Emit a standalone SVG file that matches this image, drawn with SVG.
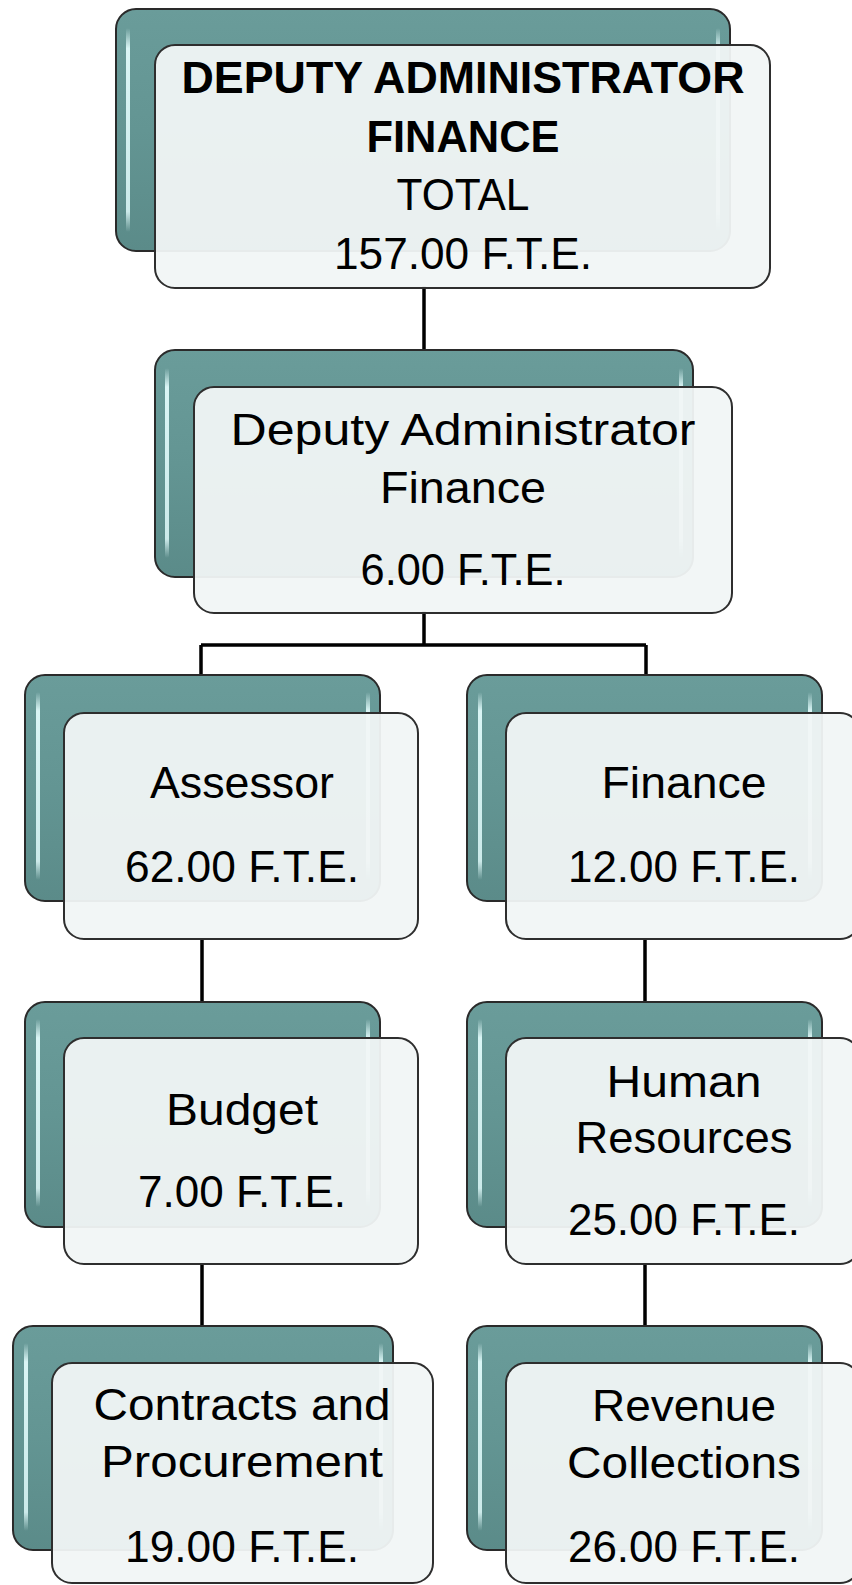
<svg xmlns="http://www.w3.org/2000/svg" width="852" height="1585" viewBox="0 0 852 1585">
<style>
.teal{fill:url(#tg);stroke:#2a2a2a;stroke-width:2}
.card{fill:#f1f5f5;fill-opacity:0.95;stroke:#2e2e2e;stroke-width:2}
.hl{fill:url(#hg)}
.conn{fill:none;stroke:#000;stroke-width:3.5}
text{font-family:"Liberation Sans",Arial,sans-serif;font-size:45px;fill:#000;text-anchor:middle}
.b{font-weight:bold;font-size:44px}
</style>
<defs>
<linearGradient id="tg" x1="0" y1="0" x2="0" y2="1">
<stop offset="0" stop-color="#6a9c9a"/>
<stop offset="0.5" stop-color="#639593"/>
<stop offset="1" stop-color="#5b8b89"/>
</linearGradient>
<linearGradient id="hg" x1="0" y1="0" x2="0" y2="1">
<stop offset="0" stop-color="#e6ffff" stop-opacity="0"/>
<stop offset="0.1" stop-color="#e0fafa" stop-opacity="0.95"/>
<stop offset="0.9" stop-color="#d8f4f4" stop-opacity="0.9"/>
<stop offset="1" stop-color="#d8f4f4" stop-opacity="0"/>
</linearGradient>
</defs>
<g id="connectors">
<path class="conn" d="M424 286V352"/>
<path class="conn" d="M424 611V645M201 645H646M201 645V677M646 645V677"/>
<path class="conn" d="M202 938V1003M645 938V1003"/>
<path class="conn" d="M202 1263V1327M645 1263V1327"/>
</g>
<g id="n-total">
<rect class="teal" x="116" y="9" width="614" height="242" rx="20"/>
<rect class="hl" x="126" y="28" width="4" height="204" rx="2"/>
<rect class="hl" x="716" y="28" width="4" height="204" rx="2"/>
<rect class="card" x="155" y="45" width="615" height="243" rx="20"/>
<text class="b" x="463" y="93" textLength="563" lengthAdjust="spacingAndGlyphs">DEPUTY ADMINISTRATOR</text>
<text class="b" x="463" y="152" textLength="193" lengthAdjust="spacingAndGlyphs">FINANCE</text>
<text x="463" y="210" textLength="133" lengthAdjust="spacingAndGlyphs">TOTAL</text>
<text x="463" y="269" textLength="258" lengthAdjust="spacingAndGlyphs">157.00 F.T.E.</text>
</g>
<g id="n-deputy">
<rect class="teal" x="155" y="350" width="538" height="227" rx="20"/>
<rect class="hl" x="165" y="368" width="4" height="190" rx="2"/>
<rect class="hl" x="679" y="368" width="4" height="190" rx="2"/>
<rect class="card" x="194" y="387" width="538" height="226" rx="20"/>
<text x="463" y="445" textLength="465" lengthAdjust="spacingAndGlyphs">Deputy Administrator</text>
<text x="463" y="503" textLength="166" lengthAdjust="spacingAndGlyphs">Finance</text>
<text x="463" y="585" textLength="205" lengthAdjust="spacingAndGlyphs">6.00 F.T.E.</text>
</g>
<g id="n-assessor">
<rect class="teal" x="25" y="675" width="355" height="226" rx="20"/>
<rect class="hl" x="36" y="692" width="4" height="188" rx="2"/>
<rect class="hl" x="366" y="692" width="4" height="188" rx="2"/>
<rect class="card" x="64" y="713" width="354" height="226" rx="20"/>
<text x="242" y="798" textLength="184" lengthAdjust="spacingAndGlyphs">Assessor</text>
<text x="242" y="882" textLength="234" lengthAdjust="spacingAndGlyphs">62.00 F.T.E.</text>
</g>
<g id="n-finance">
<rect class="teal" x="467" y="675" width="355" height="226" rx="20"/>
<rect class="hl" x="478" y="692" width="4" height="188" rx="2"/>
<rect class="hl" x="808" y="692" width="4" height="188" rx="2"/>
<rect class="card" x="506" y="713" width="354" height="226" rx="20"/>
<text x="684" y="798" textLength="165" lengthAdjust="spacingAndGlyphs">Finance</text>
<text x="684" y="882" textLength="232" lengthAdjust="spacingAndGlyphs">12.00 F.T.E.</text>
</g>
<g id="n-budget">
<rect class="teal" x="25" y="1002" width="355" height="225" rx="20"/>
<rect class="hl" x="36" y="1019" width="4" height="188" rx="2"/>
<rect class="hl" x="366" y="1019" width="4" height="188" rx="2"/>
<rect class="card" x="64" y="1038" width="354" height="226" rx="20"/>
<text x="242" y="1125" textLength="152" lengthAdjust="spacingAndGlyphs">Budget</text>
<text x="242" y="1207" textLength="208" lengthAdjust="spacingAndGlyphs">7.00 F.T.E.</text>
</g>
<g id="n-hr">
<rect class="teal" x="467" y="1002" width="355" height="225" rx="20"/>
<rect class="hl" x="478" y="1019" width="4" height="188" rx="2"/>
<rect class="hl" x="808" y="1019" width="4" height="188" rx="2"/>
<rect class="card" x="506" y="1038" width="354" height="226" rx="20"/>
<text x="684" y="1097" textLength="155" lengthAdjust="spacingAndGlyphs">Human</text>
<text x="684" y="1153" textLength="217" lengthAdjust="spacingAndGlyphs">Resources</text>
<text x="684" y="1235" textLength="232" lengthAdjust="spacingAndGlyphs">25.00 F.T.E.</text>
</g>
<g id="n-contracts">
<rect class="teal" x="13" y="1326" width="380" height="224" rx="20"/>
<rect class="hl" x="24" y="1343" width="4" height="188" rx="2"/>
<rect class="hl" x="379" y="1343" width="4" height="188" rx="2"/>
<rect class="card" x="52" y="1363" width="381" height="220" rx="20"/>
<text x="242" y="1420" textLength="297" lengthAdjust="spacingAndGlyphs">Contracts and</text>
<text x="242" y="1477" textLength="282" lengthAdjust="spacingAndGlyphs">Procurement</text>
<text x="242" y="1562" textLength="234" lengthAdjust="spacingAndGlyphs">19.00 F.T.E.</text>
</g>
<g id="n-revenue">
<rect class="teal" x="467" y="1326" width="355" height="224" rx="20"/>
<rect class="hl" x="478" y="1343" width="4" height="188" rx="2"/>
<rect class="hl" x="808" y="1343" width="4" height="188" rx="2"/>
<rect class="card" x="506" y="1363" width="354" height="220" rx="20"/>
<text x="684" y="1421" textLength="184" lengthAdjust="spacingAndGlyphs">Revenue</text>
<text x="684" y="1478" textLength="234" lengthAdjust="spacingAndGlyphs">Collections</text>
<text x="684" y="1562" textLength="232" lengthAdjust="spacingAndGlyphs">26.00 F.T.E.</text>
</g>
</svg>
